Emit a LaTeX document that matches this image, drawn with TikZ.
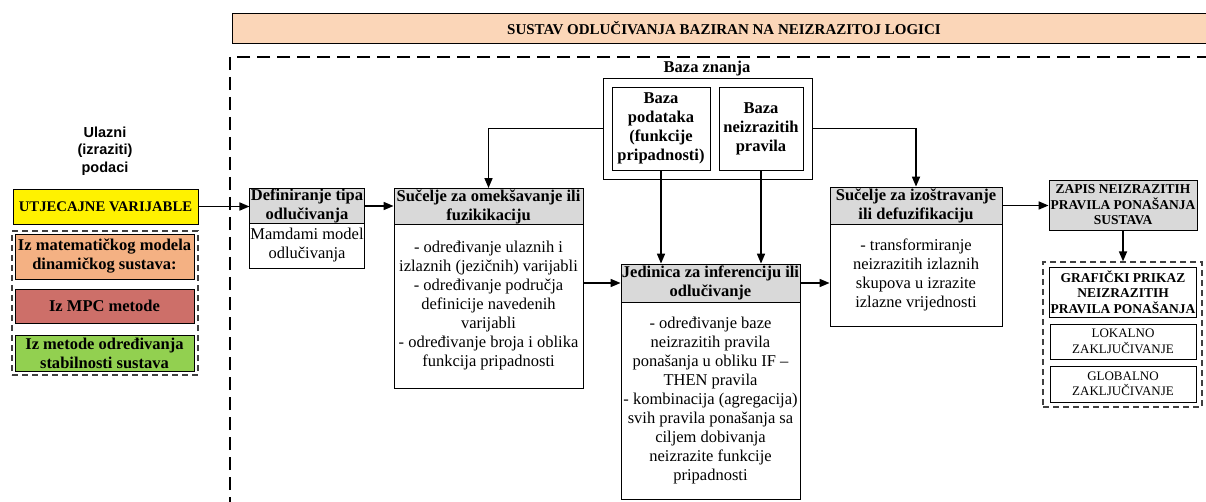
\documentclass[tikz,border=0pt]{standalone}
\usepackage{fontspec}
\setmainfont{Liberation Serif}
\newfontfamily\sansb{Liberation Sans}
\usetikzlibrary{arrows.meta}
\definecolor{hdrgray}{HTML}{D9D9D9}
\definecolor{titlepeach}{HTML}{FBD6B8}
\definecolor{orangebox}{HTML}{F4B183}
\definecolor{redbox}{HTML}{CD6F69}
\definecolor{greenbox}{HTML}{92D050}
\definecolor{dashgray}{HTML}{404040}
\tikzset{
  box/.style={draw, line width=0.8pt, inner sep=1pt, align=center},
  hdr/.style={box, fill=hdrgray, font=\bfseries\fontsize{16.5}{19}\selectfont},
  bodytxt/.style={box, fill=white, font=\fontsize{16.5}{19}\selectfont},
  bbox/.style={box, font=\bfseries\fontsize{16.5}{19}\selectfont},
  capsb/.style={box, font=\bfseries\fontsize{13.5}{15.5}\selectfont},
  capsr/.style={box, font=\fontsize{13}{15.5}\selectfont},
  grp/.style={draw=dashgray, line width=1.3pt, dash pattern=on 6pt off 4pt, inner sep=0pt},
  arr/.style={line width=1.6pt, -{Triangle[length=10pt,width=8pt]}},
}
\begin{document}
\begin{tikzpicture}[x=1pt,y=-1pt]
\useasboundingbox (0,0) rectangle (1206,502);
\clip (0,0) rectangle (1206,502);

% big dashed frame
\draw[line width=1.8pt, dash pattern=on 13pt off 7pt] (1210,57) -- (230,57) -- (230,510);

% title
\node[box, fill=titlepeach, minimum width=984, minimum height=30,
      font=\bfseries\fontsize{15}{17}\selectfont] (title) at (724,28)
  {SUSTAV ODLUČIVANJA BAZIRAN NA NEIZRAZITOJ LOGICI};

% left side
\node[align=center, font=\sansb\bfseries\fontsize{14.5}{17.5}\selectfont] (ulaz) at (105,151)
  {Ulazni\\(izraziti)\\podaci};
\node[box, fill=yellow, minimum width=185, minimum height=35,
      font=\bfseries\fontsize{14.7}{17}\selectfont] (yel) at (105.5,206.5) {UTJECAJNE VARIJABLE};
\node[grp, minimum width=186, minimum height=144] (lgrp) at (105,303) {};
\node[bbox, fill=orangebox, minimum width=179, minimum height=45] (ora) at (104.5,256.5)
  {Iz matematičkog modela\\dinamičkog sustava:};
\node[bbox, fill=redbox, minimum width=179, minimum height=34] (red) at (104.5,306) {Iz MPC metode};
\node[bbox, fill=greenbox, minimum width=179, minimum height=36] (grn) at (104.5,353)
  {Iz metode određivanja\\stabilnosti sustava};

% Definiranje
\node[hdr, minimum width=114, minimum height=34] (defh) at (307,206) {Definiranje tipa\\odlučivanja};
\node[bodytxt, minimum width=114, minimum height=45] (defb) at (307,245.5) {Mamdami model\\odlučivanja};

% Sucelje omeksavanje
\node[hdr, minimum width=189, minimum height=35] (omh) at (488.5,206.5) {Sučelje za omekšavanje ili\\fuzikikaciju};
\node[bodytxt, minimum width=189, minimum height=164] (omb) at (488.5,306)
  {- određivanje ulaznih i\\izlaznih (jezičnih) varijabli\\- određivanje područja\\definicije navedenih\\varijabli\\- određivanje broja i oblika\\funkcija pripadnosti};

% Baza znanja
\node[font=\bfseries\fontsize{16.5}{19}\selectfont] (bzl) at (707,69) {Baza znanja};
\node[box, minimum width=209, minimum height=101] (bz) at (707.5,128.5) {};
\node[bbox, minimum width=98, minimum height=83] (b1) at (661,128.5) {Baza\\podataka\\(funkcije\\pripadnosti)};
\node[bbox, minimum width=84, minimum height=83] (b2) at (761,128.5) {Baza\\neizrazitih\\pravila};

% Jedinica
\node[hdr, minimum width=179, minimum height=38] (jeh) at (710.5,283) {Jedinica za inferenciju ili\\odlučivanje};
\node[bodytxt, minimum width=179, minimum height=197] (jeb) at (710.5,400.5)
  {- određivanje baze\\neizrazitih pravila\\ponašanja u obliku IF –\\THEN pravila\\- kombinacija (agregacija)\\svih pravila ponašanja sa\\ciljem dobivanja\\neizrazite funkcije\\pripadnosti};

% Izostravanje
\node[hdr, minimum width=172, minimum height=37] (izh) at (916,205.5) {Sučelje za izoštravanje\\ili defuzifikaciju};
\node[bodytxt, minimum width=172, minimum height=102] (izb) at (916,275)
  {- transformiranje\\neizrazitih izlaznih\\skupova u izrazite\\izlazne vrijednosti};

% Right side
\node[capsb, fill=hdrgray, minimum width=148, minimum height=50] (zap) at (1123,205)
  {ZAPIS NEIZRAZITIH\\PRAVILA PONAŠANJA\\SUSTAVA};
\node[grp, minimum width=159, minimum height=145] (rgrp) at (1122.5,334.5) {};
\node[capsb, fill=white, minimum width=146, minimum height=50] (graf) at (1123,292)
  {GRAFIČKI PRIKAZ\\NEIZRAZITIH\\PRAVILA PONAŠANJA};
\node[capsr, fill=white, minimum width=146, minimum height=35] (lok) at (1123,341.5)
  {LOKALNO\\ZAKLJUČIVANJE};
\node[capsr, fill=white, minimum width=146, minimum height=36] (glob) at (1123,384)
  {GLOBALNO\\ZAKLJUČIVANJE};

% connectors
\draw[arr] (yel.east) -- (yel.east -| defh.west);
\draw[arr] (defh.east) -- (defh.east -| omh.west);
\draw[arr] (omb.east |- jeh.west) -- (jeh.west);
\draw[arr] (jeh.east) -- (jeh.east -| izb.west);
\draw[arr] (izh.east) -- (izh.east -| zap.west);
\draw[arr] (zap.south) -- (zap.south |- rgrp.north);
\draw[arr] (bz.west) -| (omh.north);
\draw[arr] (bz.east) -| (izh.north);
\draw[arr] (b1.south) -- (b1.south |- jeh.north);
\draw[arr] (b2.south) -- (b2.south |- jeh.north);
\end{tikzpicture}
\end{document}
